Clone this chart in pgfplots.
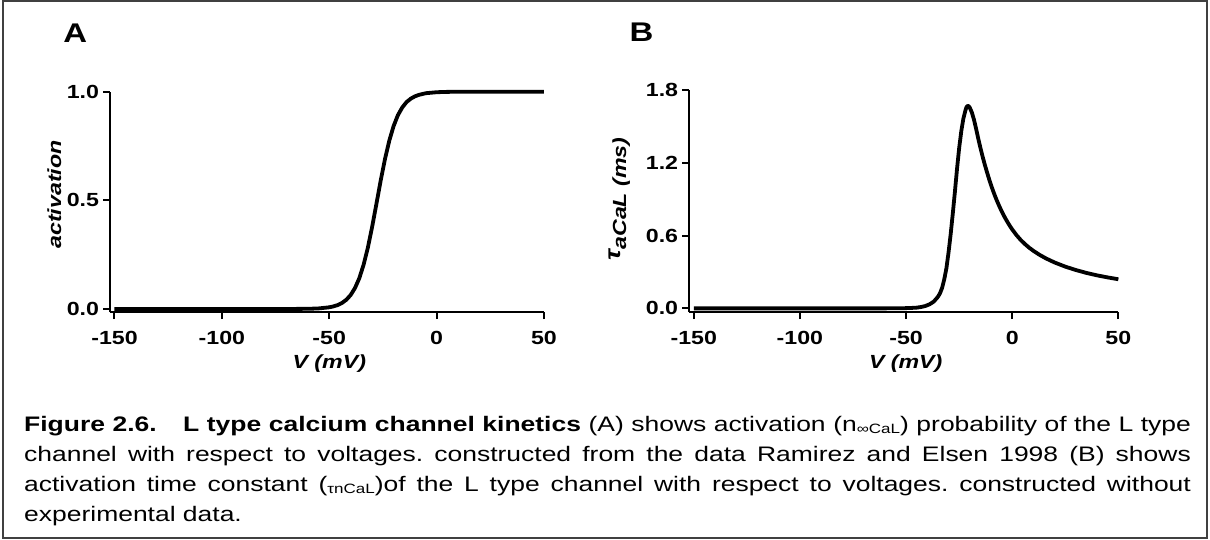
\documentclass[border=0pt]{standalone}
\usepackage{fontspec}
\setmainfont{Liberation Sans}[FakeStretch=1.22]
\newfontfamily\capfont{Liberation Sans}[FakeStretch=1.26]
\usepackage{pgfplots}
\pgfplotsset{compat=1.18}
\newcommand{\tfont}{\fontsize{19}{19}\selectfont\bfseries}
\newcommand{\lfont}{\fontsize{19}{19}\selectfont\bfseries\itshape}
\newcommand{\sub}[1]{\raisebox{-2.5pt}{\fontsize{13.5}{13.5}\selectfont #1}}
\pgfplotstableread{
V n
-150 0
-100 0
-80 0.00002
-70 0.0001
-60 0.0009
-55 0.0026
-50 0.0078
-48 0.0120
-46 0.0184
-44 0.0281
-42 0.0427
-40 0.0645
-38 0.0963
-36 0.141
-34 0.203
-32 0.282
-30 0.378
-28 0.484
-26 0.592
-24 0.691
-22 0.775
-20 0.842
-18 0.892
-16 0.927
-14 0.952
-12 0.968
-10 0.979
-8 0.986
-5 0.993
0 0.9976
5 0.9992
10 0.9997
20 1.0
50 1.0
}\tableA
\pgfplotstableread{
V tau
-150 0
-60 0
-52 0.001
-48 0.003
-45 0.006
-43 0.011
-41 0.019
-39 0.033
-37 0.055
-35 0.095
-34 0.125
-33 0.17
-32 0.24
-31 0.33
-30 0.46
-29 0.61
-28 0.78
-27 0.96
-26 1.15
-25 1.32
-24 1.46
-23 1.565
-22 1.635
-21.5 1.66
-21 1.67
-20.5 1.667
-20 1.655
-19 1.615
-18 1.555
-17 1.48
-16 1.40
-15 1.325
-14 1.255
-13 1.19
-12 1.13
-11 1.072
-10 1.018
-9 0.968
-8 0.922
-7 0.879
-6 0.839
-5 0.802
-4 0.767
-3 0.735
-2 0.705
-1 0.677
0 0.651
2 0.604
4 0.564
6 0.530
8 0.500
10 0.474
13 0.440
16 0.411
20 0.378
25 0.344
30 0.316
35 0.292
40 0.272
45 0.255
50 0.24
}\tableB
\pgfplotsset{
  prism/.style={
    axis x line*=bottom, axis y line*=left,
    axis line style={line width=2pt, black},
    tick style={line width=2pt, black},
    tick align=outside, major tick length=7pt,
    clip=false,
    xtick={-150,-100,-50,0,50},
    xticklabels={-150,-100,-50,0,50},
    ticklabel style={font=\tfont, inner sep=0pt},
    xticklabel style={anchor=north, yshift=-12.5pt},
    yticklabel style={anchor=east, xshift=-4pt},
  }
}
\begin{document}
\frenchspacing
\begin{tikzpicture}
\useasboundingbox (0,0) rectangle (1210pt,539pt);
\draw[line width=1.4pt, black!75] (3pt,1pt) rectangle (1207pt,538pt);
% Panel A
\begin{axis}[prism,
  at={(110.2pt,227pt)}, anchor=south west,
  x=2.147pt, y=217.3pt,
  xmin=-152, xmax=50, ymin=-0.0138, ymax=1.0,
  ytick={0,0.5,1}, yticklabels={0.0,0.5,1.0},
]
\addplot[line width=3.8pt, black, line join=round] table[x=V, y=n] {\tableA};
\end{axis}
% Panel B
\begin{axis}[prism,
  at={(689.3pt,227pt)}, anchor=south west,
  x=2.123pt, y=121.28pt,
  xmin=-152.1, xmax=50, ymin=-0.03, ymax=1.8,
  ytick={0,0.6,1.2,1.8}, yticklabels={0.0,0.6,1.2,1.8},
]
\addplot[line width=3.8pt, black, line join=round] table[x=V, y=tau] {\tableB};
\end{axis}
% titles
\node[anchor=base west, inner sep=0, font=\fontsize{27}{27}\selectfont\bfseries] at (63.1pt,496.3pt) {A};
\node[anchor=base west, inner sep=0, font=\fontsize{27}{27}\selectfont\bfseries] at (629.3pt,497.3pt) {B};
% axis labels
\node[anchor=base, inner sep=0, font=\lfont] at (329.3pt,171pt) {V (mV)};
\node[anchor=base, inner sep=0, font=\lfont] at (905.7pt,171pt) {V (mV)};
\node[anchor=base, inner sep=0, font=\lfont, rotate=90] at (61.2pt,344.5pt) {activation};
\node[anchor=base, inner sep=0, font=\lfont, rotate=90] at (626pt,340pt) {\raisebox{6pt}{\fontsize{22}{22}\selectfont τ}aCaL (ms)};
% caption
\node[anchor=base west, inner sep=0] at (24pt,108pt) {\parbox[t]{1166.7pt}{\capfont\fontsize{21}{30.2}\selectfont
\textbf{Figure 2.6.\hspace{0.9em} L type calcium channel kinetics} (A) shows activation (n\sub{∞CaL}) probability of the L type\linebreak
channel with respect to voltages. constructed from the data Ramirez and Elsen 1998 (B) shows\linebreak
activation time constant (\sub{τnCaL})of the L type channel with respect to voltages. constructed without\linebreak
experimental data.}};
\end{tikzpicture}
\end{document}
